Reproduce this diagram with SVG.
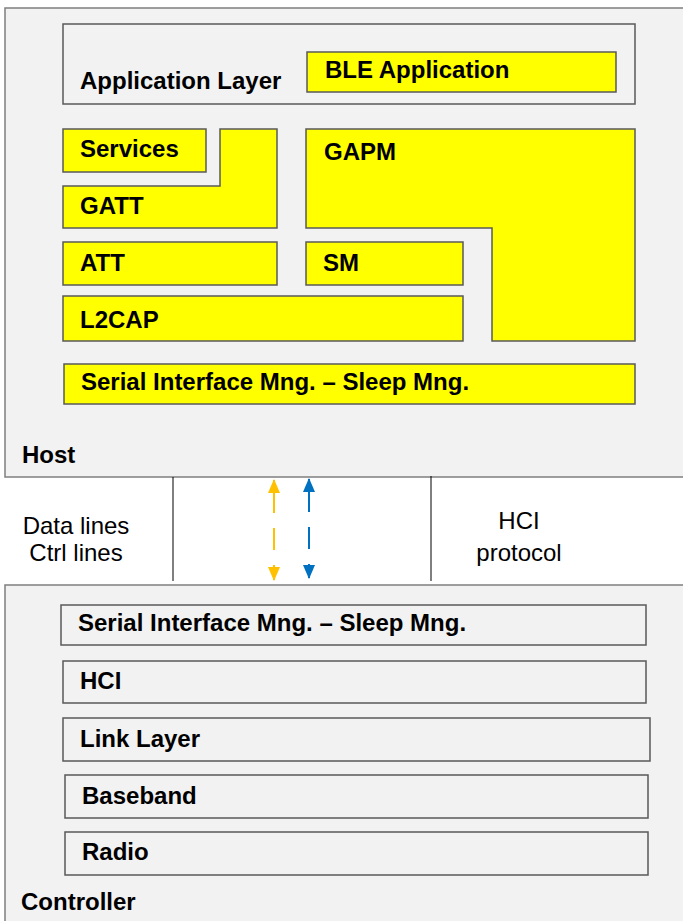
<svg xmlns="http://www.w3.org/2000/svg" width="683" height="921" viewBox="0 0 683 921">
<style>
.frame{fill:#f2f2f2;stroke:#7f7f7f;stroke-width:1.5}
.box{fill:#f2f2f2;stroke:#595959;stroke-width:1.5}
.ybox{fill:#ffff00;stroke:#595959;stroke-width:1.5}
.lbl{font-family:"Liberation Sans",Arial,sans-serif;font-weight:bold;font-size:24px;fill:#000}
.reg{font-family:"Liberation Sans",Arial,sans-serif;font-size:24px;fill:#000}
.sep{stroke:#000;stroke-width:1}
</style>
<defs>
<marker id="ao" viewBox="0 0 14 12" refX="13" refY="6" markerWidth="14" markerHeight="12" orient="auto-start-reverse" markerUnits="userSpaceOnUse"><path d="M0,0 L14,6 L0,12 z" fill="#ffc000"/></marker>
<marker id="ab" viewBox="0 0 14 12" refX="13" refY="6" markerWidth="14" markerHeight="12" orient="auto-start-reverse" markerUnits="userSpaceOnUse"><path d="M0,0 L14,6 L0,12 z" fill="#0070c0"/></marker>
</defs>
<rect width="683" height="921" fill="#ffffff"/>
<g id="host">
<rect class="frame" x="5" y="8" width="690" height="469"/>
<text class="lbl" x="22" y="463">Host</text>
</g>
<g id="application-layer">
<rect class="box" x="63" y="24" width="572" height="80"/>
<text class="lbl" x="80" y="89">Application Layer</text>
</g>
<g id="ble-application">
<rect class="ybox" x="307" y="52" width="309" height="40"/>
<text class="lbl" x="325" y="78">BLE Application</text>
</g>
<g id="services">
<rect class="ybox" x="63" y="129" width="143" height="43"/>
<text class="lbl" x="80" y="157">Services</text>
</g>
<g id="gatt">
<path class="ybox" d="M220,129 H277 V228 H63 V186 H220 Z"/>
<text class="lbl" x="80" y="214">GATT</text>
</g>
<g id="gapm">
<path class="ybox" d="M306,129 H635 V341 H492 V228 H306 Z"/>
<text class="lbl" x="324" y="160">GAPM</text>
</g>
<g id="att">
<rect class="ybox" x="63" y="242" width="214" height="43"/>
<text class="lbl" x="80" y="271">ATT</text>
</g>
<g id="sm">
<rect class="ybox" x="306" y="242" width="157" height="43"/>
<text class="lbl" x="323" y="271">SM</text>
</g>
<g id="l2cap">
<rect class="ybox" x="63" y="296" width="400" height="45"/>
<text class="lbl" x="80" y="328">L2CAP</text>
</g>
<g id="host-serial">
<rect class="ybox" x="64" y="364" width="571" height="40"/>
<text class="lbl" x="81" y="390">Serial Interface Mng. – Sleep Mng.</text>
</g>
<g id="interface">
<line class="sep" x1="173" y1="477" x2="173" y2="581"/>
<line class="sep" x1="431" y1="476" x2="431" y2="581"/>
<text class="reg" x="76" y="534" text-anchor="middle">Data lines</text>
<text class="reg" x="76" y="561" text-anchor="middle">Ctrl lines</text>
<text class="reg" x="519" y="529" text-anchor="middle">HCI</text>
<text class="reg" x="519" y="561" text-anchor="middle">protocol</text>
</g>
<g id="connectors">
<line x1="274" y1="480" x2="274" y2="580" stroke="#ffc000" stroke-width="2" stroke-dasharray="33,15,22,15,30" marker-start="url(#ao)" marker-end="url(#ao)"/>
<line x1="309" y1="479" x2="309" y2="578" stroke="#0070c0" stroke-width="2" stroke-dasharray="33,15,22,15,30" marker-start="url(#ab)" marker-end="url(#ab)"/>
</g>
<g id="controller">
<rect class="frame" x="5" y="585" width="690" height="345"/>
<text class="lbl" x="21" y="910">Controller</text>
</g>
<g id="ctrl-serial">
<rect class="box" x="61" y="605" width="585" height="40"/>
<text class="lbl" x="78" y="631">Serial Interface Mng. – Sleep Mng.</text>
</g>
<g id="hci">
<rect class="box" x="63" y="661" width="583" height="42"/>
<text class="lbl" x="80" y="689">HCI</text>
</g>
<g id="link-layer">
<rect class="box" x="63" y="718" width="587" height="43"/>
<text class="lbl" x="80" y="747">Link Layer</text>
</g>
<g id="baseband">
<rect class="box" x="65" y="775" width="583" height="43"/>
<text class="lbl" x="82" y="804">Baseband</text>
</g>
<g id="radio">
<rect class="box" x="65" y="832" width="583" height="43"/>
<text class="lbl" x="82" y="860">Radio</text>
</g>
</svg>
